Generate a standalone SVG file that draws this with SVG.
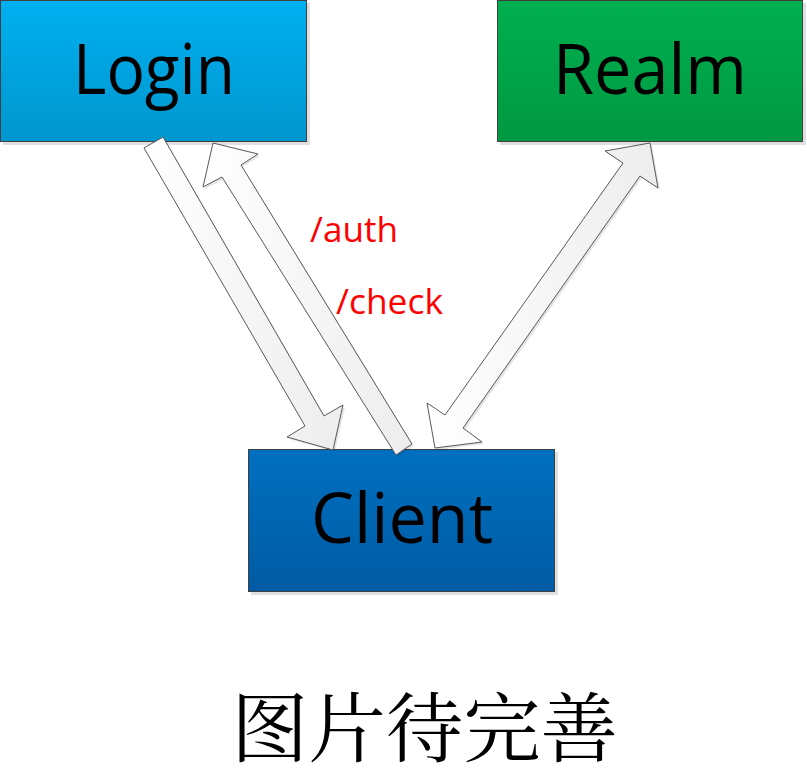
<svg xmlns="http://www.w3.org/2000/svg" width="807" height="784" viewBox="0 0 807 784">
<defs>
<linearGradient id="gLogin" x1="0" y1="0" x2="0" y2="1"><stop offset="0" stop-color="#00B0F0"/><stop offset="1" stop-color="#0096CE"/></linearGradient>
<linearGradient id="gRealm" x1="0" y1="0" x2="0" y2="1"><stop offset="0" stop-color="#00B050"/><stop offset="1" stop-color="#009842"/></linearGradient>
<linearGradient id="gClient" x1="0" y1="0" x2="0" y2="1"><stop offset="0" stop-color="#0070C0"/><stop offset="1" stop-color="#005BA3"/></linearGradient>
<linearGradient id="gArrow" x1="0" y1="0" x2="1" y2="0"><stop offset="0" stop-color="#FFFFFF"/><stop offset="1" stop-color="#EDEDED"/></linearGradient>
</defs>
<style>
.box{stroke:#404040;stroke-width:1}
.shadow{fill:#000;opacity:0.12}
.lbl{font-family:"Open Sans","Noto Sans",sans-serif;font-size:70px;fill:#000;text-anchor:middle}
.arrow{fill:url(#gArrow);stroke:#595959;stroke-width:1;stroke-linejoin:miter}
.ashadow{fill:#000;opacity:0.10}
.red{font-family:"Open Sans","Noto Sans",sans-serif;font-size:35px;fill:#FF0000}
.cjk{font-family:"Noto Serif CJK SC","Noto Sans CJK SC",serif;font-size:76px;fill:#000}
</style>
<rect width="807" height="784" fill="#FFFFFF"/>
<g id="login">
<rect class="shadow" x="3" y="3" width="307" height="142"/>
<rect class="box" x="0.5" y="0.5" width="306" height="141" fill="url(#gLogin)"/>
<text class="lbl" x="154" y="94" textLength="162" lengthAdjust="spacingAndGlyphs">Login</text>
</g>
<g id="realm">
<rect class="shadow" x="500" y="3" width="306" height="142"/>
<rect class="box" x="497.5" y="0.5" width="305" height="141" fill="url(#gRealm)"/>
<text class="lbl" x="650" y="94" textLength="194" lengthAdjust="spacingAndGlyphs">Realm</text>
</g>
<g id="client">
<rect class="shadow" x="251" y="452" width="307" height="143"/>
<rect class="box" x="248.5" y="449.5" width="306" height="142" fill="url(#gClient)"/>
<text class="lbl" x="402" y="543" textLength="182" lengthAdjust="spacingAndGlyphs">Client</text>
</g>
<g id="connectors">
<polygon class="ashadow" transform="translate(2,2)" points="144,148 163,137 324,416 343,405 333,450 287,437 305,426"/>
<polygon class="arrow" points="144,148 163,137 324,416 343,405 333,450 287,437 305,426"/>
<polygon class="ashadow" transform="translate(2,2)" points="213,143 258,154 241,165 412,444 396,455 222,177 203,187"/>
<polygon class="arrow" points="213,143 258,154 241,165 412,444 396,455 222,177 203,187"/>
<polygon class="ashadow" transform="translate(2,2)" points="650,143 658,188 640,176 463,428 482,442 435,448 427,403 445,415 623,163 605,151"/>
<polygon class="arrow" points="650,143 658,188 640,176 463,428 482,442 435,448 427,403 445,415 623,163 605,151"/>
<text class="red" x="310" y="242" textLength="88" lengthAdjust="spacingAndGlyphs">/auth</text>
<text class="red" x="336" y="314" textLength="107" lengthAdjust="spacingAndGlyphs">/check</text>
</g>
<text class="cjk" x="231" y="756" textLength="387" lengthAdjust="spacingAndGlyphs">图片待完善</text>
</svg>
